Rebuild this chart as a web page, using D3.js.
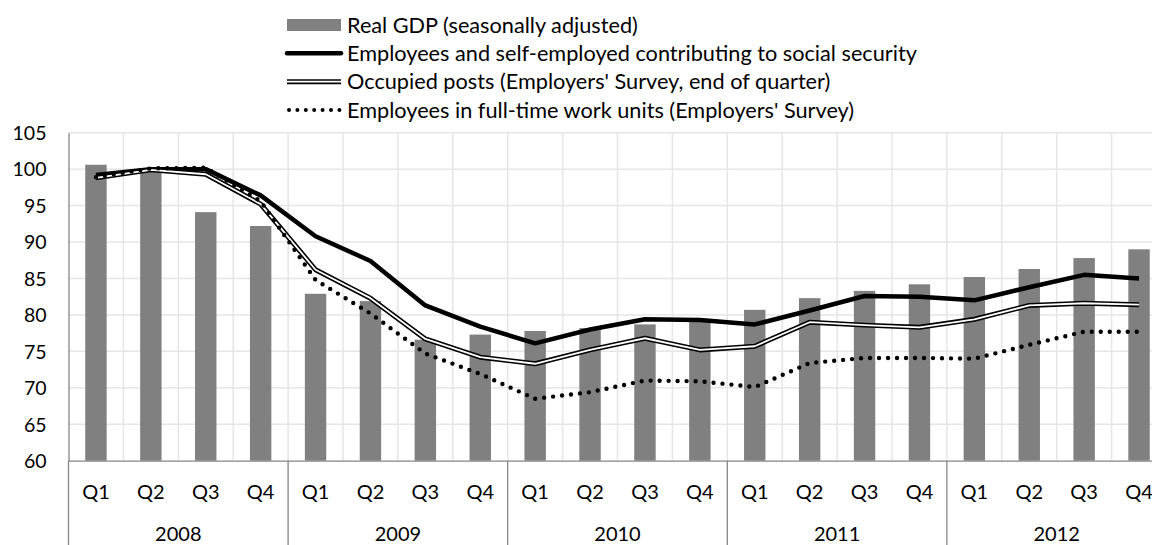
<!DOCTYPE html>
<html>
<head>
<meta charset="utf-8">
<script src="https://cdn.jsdelivr.net/npm/d3@7"></script>
<style>
  html, body { margin: 0; padding: 0; background: #fff; overflow: hidden; }
  svg { display: block; }
  text { font-family: Lato, "Open Sans", sans-serif; fill: #000; }
</style>
</head>
<body>
<svg id="chart" width="1152" height="545"></svg>
<script>
const quarters = ["Q1","Q2","Q3","Q4"];
const years = ["2008","2009","2010","2011","2012"];
const yTicks = [60,65,70,75,80,85,90,95,100,105];

const seriesNames = [
  "Real GDP (seasonally adjusted)",
  "Employees and self-employed contributing to social security",
  "Occupied posts (Employers' Survey, end of quarter)",
  "Employees in full-time work units (Employers' Survey)"
];

const gdp =       [100.6,100.0,94.1,92.2, 82.9,81.9,76.6,77.3, 77.8,78.2,78.7,79.4, 80.7,82.3,83.3,84.2, 85.2,86.3,87.8,89.0];
const employees = [99.2,100.0,100.0,96.4, 90.8,87.4,81.3,78.4, 76.1,78.0,79.4,79.3, 78.7,80.6,82.6,82.5, 82.0,83.8,85.5,85.0];
const posts =     [98.8,99.9,99.3,95.2, 86.2,82.3,76.7,74.2, 73.3,75.2,76.8,75.2, 75.7,79.0,78.6,78.3, 79.4,81.3,81.6,81.4];
const fte =       [98.9,100.1,100.2,95.6, 84.8,80.2,74.7,71.9, 68.5,69.4,71.0,70.9, 70.1,73.4,74.1,74.1, 74.0,75.9,77.7,77.7];

const categories = [];
years.forEach(y => quarters.forEach(q => categories.push(y + " " + q)));

const svg = d3.select("#chart");
const axisFont = 19.5;
const legendFont = 21.7;

const x = d3.scaleBand().domain(categories).range([68.5, 1166.5]).paddingInner(0.61).paddingOuter(0.305);
const step = x.step();
const y = d3.scaleLinear().domain([60, 105]).range([460.7, 132.7]);
const cx = c => x(c) + x.bandwidth() / 2;
const leftEdge = c => x(c) - x.paddingOuter() * step;

// gridlines
const grid = svg.append("g");
grid.selectAll("line.h").data(yTicks.slice(1)).join("line")
  .attr("x1", 68.5).attr("x2", 1166.5)
  .attr("y1", d => y(d)).attr("y2", d => y(d))
  .attr("stroke", "#e6e6e6").attr("stroke-width", 1.5);
grid.selectAll("line.v").data(categories.slice(1)).join("line")
  .attr("x1", leftEdge).attr("x2", leftEdge)
  .attr("y1", y(105)).attr("y2", y(60))
  .attr("stroke", "#e6e6e6").attr("stroke-width", 1.5);

// bars
svg.append("g").selectAll("rect").data(categories).join("rect")
  .attr("x", d => x(d)).attr("width", x.bandwidth())
  .attr("y", (d, i) => y(gdp[i])).attr("height", (d, i) => y(60) - y(gdp[i]))
  .attr("fill", "#808080");

// lines
const line = d3.line().x((d, i) => cx(categories[i])).y(d => y(d));
svg.append("path").datum(employees).attr("d", line)
  .attr("fill", "none").attr("stroke", "#000").attr("stroke-width", 4.5).attr("stroke-linejoin", "round");
svg.append("path").datum(posts).attr("d", line)
  .attr("fill", "none").attr("stroke", "#000").attr("stroke-width", 5).attr("stroke-linejoin", "round");
svg.append("path").datum(posts).attr("d", line)
  .attr("fill", "none").attr("stroke", "#fff").attr("stroke-width", 1.8).attr("stroke-linejoin", "round");
svg.append("path").datum(fte).attr("d", line)
  .attr("fill", "none").attr("stroke", "#000").attr("stroke-width", 4.4)
  .attr("stroke-linecap", "round").attr("stroke-dasharray", "0 9");

// axes
const axisColor = "#868686";
const yAxis = svg.append("g").attr("transform", "translate(68.5,0)")
  .call(d3.axisLeft(y).tickValues(yTicks).tickSize(0).tickPadding(22));
yAxis.select(".domain").attr("stroke", axisColor).attr("stroke-width", 1.3);
yAxis.selectAll("text").attr("font-size", axisFont).attr("font-family", "Lato").attr("fill", "#000").attr("dy", "0.35em");

const xAxis = svg.append("g").attr("transform", "translate(0," + y(60) + ")")
  .call(d3.axisBottom(x).tickSize(0).tickPadding(22).tickFormat(d => d.split(" ")[1]));
xAxis.select(".domain").attr("stroke", axisColor).attr("stroke-width", 1.3);
xAxis.selectAll("text").attr("font-size", 20).attr("font-family", "Lato").attr("fill", "#000").attr("dy", "0.35em").attr("y", 31);

// year dividers and labels
const yearScale = d3.scaleBand().domain(years).range([68.5, 1166.5]);
svg.append("g").selectAll("line").data(years).join("line")
  .attr("x1", d => yearScale(d)).attr("x2", d => yearScale(d))
  .attr("y1", y(60)).attr("y2", 545)
  .attr("stroke", axisColor).attr("stroke-width", 1.3);
svg.append("g").selectAll("text").data(years).join("text")
  .attr("x", d => yearScale(d) + yearScale.bandwidth() / 2)
  .attr("y", 534).attr("dy", "0.35em").attr("text-anchor", "middle")
  .attr("font-size", 20).text(d => d);

// legend
const legend = svg.append("g");
const lx0 = 287, lx1 = 341, ltx = 347;
const rows = [25, 53.3, 81.7, 110];
legend.append("rect").attr("x", lx0).attr("y", rows[0] - 6).attr("width", lx1 - lx0).attr("height", 12).attr("fill", "#808080");
legend.append("line").attr("x1", lx0).attr("x2", lx1).attr("y1", rows[1]).attr("y2", rows[1])
  .attr("stroke", "#000").attr("stroke-width", 4.5).attr("stroke-linecap", "round");
legend.append("line").attr("x1", lx0).attr("x2", lx1).attr("y1", rows[2]).attr("y2", rows[2])
  .attr("stroke", "#000").attr("stroke-width", 5);
legend.append("line").attr("x1", lx0).attr("x2", lx1).attr("y1", rows[2]).attr("y2", rows[2])
  .attr("stroke", "#fff").attr("stroke-width", 1.8);
legend.append("line").attr("x1", lx0 + 2).attr("x2", lx1).attr("y1", rows[3]).attr("y2", rows[3])
  .attr("stroke", "#000").attr("stroke-width", 4).attr("stroke-linecap", "round").attr("stroke-dasharray", "0 8.4");
legend.selectAll("text").data(seriesNames).join("text")
  .attr("x", ltx).attr("y", (d, i) => rows[i]).attr("dy", "0.35em")
  .attr("font-size", legendFont).text(d => d);
</script>
</body>
</html>
